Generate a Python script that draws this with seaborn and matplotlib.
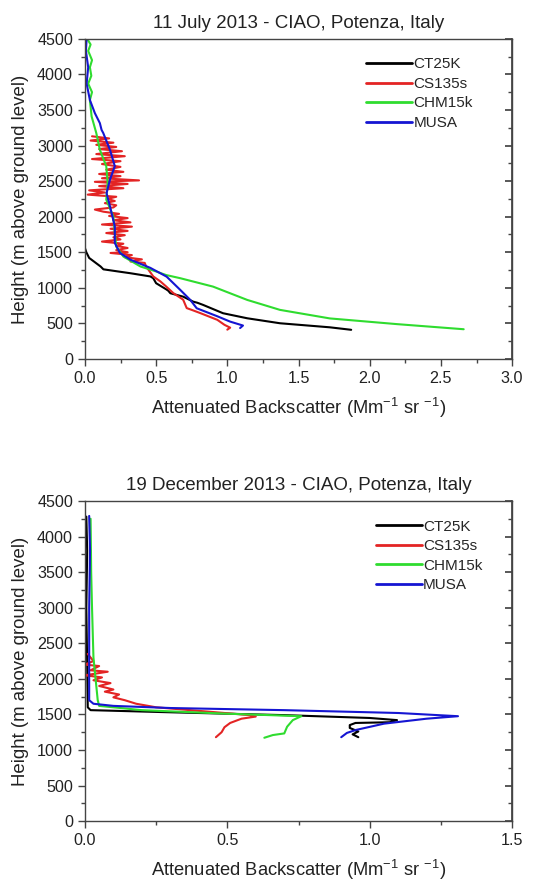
import numpy as np
import pandas as pd
import seaborn as sns
import matplotlib
matplotlib.use("Agg")
import matplotlib.pyplot as plt
from matplotlib.ticker import MultipleLocator
from matplotlib.lines import Line2D

# ---------------- data: 11 July 2013 ----------------
jul_ct25k_x = [1.87, 1.72, 1.37, 1.14, 0.97, 0.83, 0.79, 0.76, 0.69, 0.60, 0.585, 0.57, 0.50,
               0.48, 0.46, 0.32, 0.25, 0.13, 0.11, 0.07, 0.03, 0.01, 0.0, 0.0, 0.0, 0.0]
jul_ct25k_y = [410, 445, 502, 572, 643, 760, 790, 806, 876, 924, 960, 980, 1065,
               1135, 1160, 1205, 1225, 1260, 1300, 1360, 1420, 1500, 1560, 2000, 3000, 3800]

jul_cs135_x = [1.0, 1.02, 0.98, 0.93, 0.81, 0.75, 0.715, 0.69, 0.62, 0.57, 0.53, 0.48, 0.43,
               0.42, 0.32, 0.40, 0.28, 0.33, 0.18,
               0.30, 0.22, 0.30, 0.22, 0.27, 0.12, 0.25, 0.20, 0.28, 0.15, 0.30, 0.18, 0.33,
               0.12, 0.32, 0.20, 0.30, 0.17, 0.24, 0.13, 0.07, 0.20, 0.22, 0.14, 0.21, 0.16,
               0.22, 0.02, 0.14, 0.03, 0.27, 0.10, 0.30, 0.07, 0.38, 0.12, 0.25, 0.10, 0.27,
               0.15, 0.25, 0.12, 0.25, 0.05, 0.28, 0.08, 0.26, 0.10, 0.22, 0.08, 0.20, 0.04,
               0.17, 0.05]
jul_cs135_y = [412, 440, 480, 550, 645, 690, 715, 833, 927, 1020, 1090, 1160, 1300,
               1350, 1370, 1400, 1430, 1460, 1490,
               1500, 1530, 1560, 1590, 1620, 1650, 1680, 1710, 1740, 1770, 1800, 1830, 1860,
               1890, 1920, 1950, 1980, 2010, 2040, 2070, 2100, 2130, 2160, 2190, 2220, 2250,
               2280, 2310, 2340, 2370, 2400, 2430, 2460, 2490, 2510, 2540, 2570, 2600, 2630,
               2660, 2700, 2740, 2780, 2810, 2850, 2880, 2920, 2950, 2980, 3010, 3040, 3070,
               3100, 3130]

jul_chm15k_x = [2.66, 2.19, 1.72, 1.37, 1.14, 0.90, 0.67, 0.57, 0.50, 0.39, 0.27, 0.22, 0.21,
                0.20, 0.15, 0.16, 0.15, 0.105, 0.08, 0.047, 0.035, 0.05, 0.023, 0.045, 0.035,
                0.05, 0.023, 0.04, 0.016]
jul_chm15k_y = [418, 490, 570, 690, 830, 1017, 1135, 1180, 1230, 1300, 1440, 1580, 1770,
                2000, 2240, 2470, 2710, 2940, 3175, 3410, 3640, 3750, 3870, 3980, 4100,
                4200, 4330, 4420, 4500]

jul_musa_x = [1.09, 1.11, 1.02, 0.93, 0.785, 0.74, 0.67, 0.574, 0.46, 0.32, 0.246, 0.21, 0.21,
              0.176, 0.152, 0.176, 0.21, 0.176, 0.129, 0.117, 0.105, 0.07, 0.035, 0.012,
              0.023, 0.007, 0.012]
jul_musa_y = [435, 470, 525, 600, 713, 830, 970, 1157, 1280, 1395, 1490, 1630, 1864, 2145,
              2330, 2520, 2710, 2940, 3175, 3220, 3315, 3455, 3640, 3870, 4100, 4330, 4500]

# ---------------- data: 19 December 2013 ----------------
dec_ct25k_x = [0.005, 0.008, 0.005, 0.008, 0.01, 0.02, 0.3, 0.7, 1.0, 1.096, 1.07, 0.95,
               0.93, 0.93, 0.96, 0.94, 0.96]
dec_ct25k_y = [4280, 3800, 3000, 2200, 1600, 1560, 1530, 1490, 1450, 1420, 1390, 1380,
               1350, 1310, 1260, 1220, 1180]

dec_cs135_x = [0.01, 0.03, 0.0, 0.05, 0.02, 0.08, 0.0, 0.06, 0.03, 0.09, 0.05, 0.10, 0.07,
               0.12, 0.10, 0.14, 0.18, 0.25, 0.40, 0.58, 0.60, 0.55, 0.51, 0.49, 0.48, 0.46]
dec_cs135_y = [2350, 2250, 2200, 2180, 2120, 2100, 2050, 2020, 1980, 1940, 1900, 1850, 1820,
               1780, 1740, 1700, 1650, 1600, 1550, 1490, 1470, 1440, 1380, 1320, 1250, 1180]

dec_chm15k_x = [0.02, 0.022, 0.025, 0.03, 0.045, 0.05, 0.2, 0.5, 0.76, 0.73, 0.71, 0.70,
                0.66, 0.63]
dec_chm15k_y = [4250, 3500, 3000, 2300, 1700, 1620, 1560, 1510, 1475, 1420, 1327, 1233,
                1210, 1172]

dec_musa_x = [0.015, 0.018, 0.015, 0.015, 0.03, 0.1, 0.3, 0.7, 1.1, 1.31, 1.2, 1.05, 0.95,
              0.92, 0.90]
dec_musa_y = [4290, 3800, 3000, 1700, 1650, 1620, 1590, 1560, 1520, 1475, 1440, 1370, 1280,
              1240, 1180]

instruments = ["CT25K", "CS135s", "CHM15k", "MUSA"]
colors = {"CT25K": "#000000", "CS135s": "#e32424", "CHM15k": "#2fdc2f", "MUSA": "#1515d2"}

sns.set_theme(style="ticks")
plt.rcParams["font.family"] = ["Liberation Sans", "DejaVu Sans"]


def make_df(series):
    frames = []
    for name, (xs, ys) in zip(instruments, series):
        frames.append(pd.DataFrame({"x": xs, "y": ys, "inst": name}))
    return pd.concat(frames, ignore_index=True)


panels = [
    ("11 July 2013 - CIAO, Potenza, Italy", 3.0, 0.94,
     make_df([(jul_ct25k_x, jul_ct25k_y), (jul_cs135_x, jul_cs135_y),
              (jul_chm15k_x, jul_chm15k_y), (jul_musa_x, jul_musa_y)])),
    ("19 December 2013 - CIAO, Potenza, Italy", 1.5, 0.963,
     make_df([(dec_ct25k_x, dec_ct25k_y), (dec_cs135_x, dec_cs135_y),
              (dec_chm15k_x, dec_chm15k_y), (dec_musa_x, dec_musa_y)])),
]

fig = plt.figure(figsize=(5.34, 8.82), dpi=100)
rects = [[0.159, 0.593, 0.800, 0.363], [0.159, 0.069, 0.800, 0.363]]
spine_col = "#444444"

for rect, (title, xmax, legx, df) in zip(rects, panels):
    ax = fig.add_axes(rect)
    for inst in instruments:
        sub = df[df["inst"] == inst]
        sns.lineplot(data=sub, x="x", y="y", sort=False, estimator=None,
                     color=colors[inst], lw=1.5, ax=ax, legend=False)
    ax.set_xlim(0, xmax)
    ax.set_ylim(0, 4500)
    ax.xaxis.set_major_locator(MultipleLocator(0.5))
    ax.xaxis.set_minor_locator(MultipleLocator(0.25))
    ax.yaxis.set_major_locator(MultipleLocator(500))
    ax.yaxis.set_minor_locator(MultipleLocator(250))
    ax.xaxis.set_major_formatter(matplotlib.ticker.FormatStrFormatter("%.1f"))
    ax.tick_params(which="both", direction="out", top=False, right=False,
                   color=spine_col, labelsize=11.6, labelcolor="#222222")
    ax.tick_params(which="major", length=5, width=1)
    ax.tick_params(which="minor", length=3, width=1)
    for s in ax.spines.values():
        s.set_color(spine_col)
        s.set_linewidth(1)
    sec = ax.secondary_yaxis("right")
    sec.yaxis.set_major_locator(MultipleLocator(500))
    sec.yaxis.set_minor_locator(MultipleLocator(250))
    sec.tick_params(which="both", direction="in", labelright=False, color=spine_col)
    sec.tick_params(which="major", length=5)
    sec.tick_params(which="minor", length=3)
    sec.spines["right"].set_color(spine_col)

    ax.set_title(title, fontsize=13.5, pad=8, color="#222222")
    ax.set_ylabel("Height (m above ground level)", fontsize=13.4, labelpad=6, color="#222222")
    ax.set_xlabel(r"Attenuated Backscatter (Mm$^{\mathregular{-1}}$ sr $^{\mathregular{-1}}$)",
                  fontsize=13.2, labelpad=7, color="#222222")

    handles = [Line2D([], [], color=colors[i], lw=2.0) for i in instruments]
    ax.legend(handles, instruments, loc="upper right", frameon=False, fontsize=11,
              handlelength=3.0, handletextpad=0.1, labelspacing=0.36,
              bbox_to_anchor=(legx, 0.985))

fig.savefig("out.png", dpi=100)
